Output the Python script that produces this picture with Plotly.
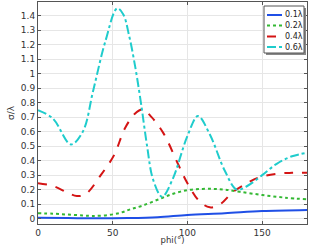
import plotly.graph_objects as go

phi_01 = [0, 20, 40, 60, 80, 100, 125, 150, 180]
sig_01 = [0.006, 0.004, 0.002, 0.004, 0.010, 0.025, 0.037, 0.052, 0.060]

phi_02 = [0, 10, 20, 30, 36, 45, 55, 62, 70, 80, 90, 100, 110, 118, 125, 135, 150, 165, 180]
sig_02 = [0.037, 0.034, 0.028, 0.022, 0.019, 0.022, 0.040, 0.065, 0.090, 0.130, 0.170, 0.197, 0.205, 0.205, 0.200, 0.185, 0.163, 0.145, 0.133]

phi_04 = [0, 10, 20, 26, 32, 42, 51, 58, 65, 70, 76, 84, 94, 100, 108, 115, 122, 130, 140, 148, 160, 170, 180]
sig_04 = [0.244, 0.225, 0.178, 0.156, 0.170, 0.300, 0.440, 0.620, 0.725, 0.753, 0.700, 0.588, 0.370, 0.244, 0.120, 0.078, 0.100, 0.180, 0.245, 0.285, 0.310, 0.316, 0.317]

phi_06 = [0, 10, 22, 30, 37, 45, 53, 57, 61, 65, 69, 73, 77, 83, 90, 100, 107, 115, 125, 133, 140, 150, 160, 170, 180]
sig_06 = [0.748, 0.690, 0.512, 0.600, 0.886, 1.220, 1.450, 1.410, 1.260, 1.050, 0.790, 0.500, 0.270, 0.151, 0.270, 0.570, 0.707, 0.580, 0.330, 0.200, 0.225, 0.300, 0.380, 0.430, 0.454]

names = ["0.1λ", "0.2λ", "0.4λ", "0.6λ"]
colors = ["#1f4fe6", "#33b833", "#d41414", "#1fcccc"]
dashes = ["solid", "dot", "dash", "dashdot"]
series = [(phi_01, sig_01), (phi_02, sig_02), (phi_04, sig_04), (phi_06, sig_06)]

W, H = 310, 245
ML, MR, MT, MB = 38, 3, 2, 21
PW, PH = W - ML - MR, H - MT - MB

def px(x):
    return (x - ML) / PW

def py(y):
    return (H - MB - y) / PH

fig = go.Figure()
for (x, y), n, c, d in zip(series, names, colors, dashes):
    fig.add_trace(go.Scatter(x=x, y=y, name=n, mode="lines", showlegend=False,
                             line=dict(color=c, dash=d, width=2, shape="spline", smoothing=1.0)))

axis_common = dict(showgrid=True, gridcolor="#e6e6e6", gridwidth=1, automargin=False,
                   showline=True, linecolor="#555555", linewidth=1, mirror="ticks",
                   ticks="inside", ticklen=3, tickcolor="#555555",
                   tickfont=dict(size=9, color="#333333", family="DejaVu Sans"),
                   zeroline=False)

fig.update_xaxes(range=[0, 180], tickvals=[0, 50, 100, 150],
                 title=dict(text="phi(°)", font=dict(size=8.5, color="#333333", family="DejaVu Sans"), standoff=0),
                 **axis_common)
fig.update_yaxes(range=[-0.037, 1.494], dtick=0.1, tick0=0,
                 title=dict(text="σ/λ", font=dict(size=9, color="#333333", family="DejaVu Sans"), standoff=4),
                 **axis_common)

# custom compact legend
shapes = []
annotations = []
bx0, bx1, by0, by1 = 264, 304, 6, 53
shapes.append(dict(type="rect", xref="paper", yref="paper", x0=px(bx0 + 2), x1=px(bx1 + 2),
                   y0=py(by1 + 2), y1=py(by0 + 2), fillcolor="#888888", line=dict(width=0)))
shapes.append(dict(type="rect", xref="paper", yref="paper", x0=px(bx0), x1=px(bx1),
                   y0=py(by1), y1=py(by0), fillcolor="white", line=dict(color="#555555", width=1)))
rows = [15, 25.5, 36.5, 47]
for r, n, c, d in zip(rows, names, colors, dashes):
    shapes.append(dict(type="line", xref="paper", yref="paper", x0=px(267), x1=px(282),
                       y0=py(r), y1=py(r), line=dict(color=c, dash=d, width=2)))
    annotations.append(dict(xref="paper", yref="paper", x=px(283), y=py(r), text=n,
                            showarrow=False, xanchor="left", yanchor="middle",
                            font=dict(size=8, color="#222222", family="DejaVu Sans")))

fig.update_layout(
    width=W, height=H,
    margin=dict(l=ML, r=MR, t=MT, b=MB),
    plot_bgcolor="white", paper_bgcolor="white",
    showlegend=False,
    shapes=shapes, annotations=annotations,
)

fig.write_html("out.html", config={"displayModeBar": False},
               post_script="document.body.style.margin='0px';document.body.style.padding='0px';")
